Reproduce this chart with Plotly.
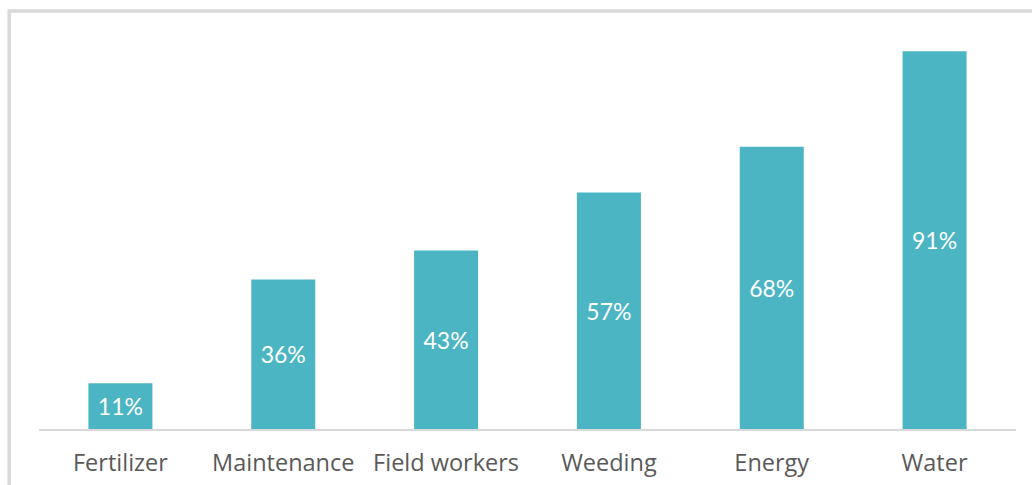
import plotly.graph_objects as go

categories = ["Fertilizer", "Maintenance", "Field workers", "Weeding", "Energy", "Water"]
shares = [11, 36, 43, 57, 68, 91]
share_labels = ["11%", "36%", "43%", "57%", "68%", "91%"]

bar_color = "#4BB5C4"
grid_grey = "#D9D9D9"
text_grey = "#595959"

fig = go.Figure(
    go.Bar(
        x=categories,
        y=shares,
        text=share_labels,
        textposition="inside",
        insidetextanchor="middle",
        textangle=0,
        textfont=dict(family="Lato", size=23, color="white"),
        marker=dict(color=bar_color, line=dict(width=0)),
        hoverinfo="skip",
    )
)

fig.update_layout(
    width=1032,
    height=485,
    margin=dict(l=38.5, r=16, t=14, b=56, autoexpand=False),
    paper_bgcolor="white",
    plot_bgcolor="white",
    bargap=0.607,
    showlegend=False,
    xaxis=dict(
        automargin=False,
        showline=True,
        linecolor=grid_grey,
        linewidth=2,
        ticks="",
        showgrid=False,
        ticklabelstandoff=12,
        tickfont=dict(family="Open Sans", size=23.5, color=text_grey),
        fixedrange=True,
    ),
    yaxis=dict(
        range=[0, 100],
        visible=False,
        showgrid=False,
        fixedrange=True,
    ),
    shapes=[
        # outer frame of the chart area (right and bottom run past the page)
        dict(
            type="rect",
            xref="paper",
            yref="paper",
            x0=-0.0305,
            x1=1.2,
            y0=-0.3,
            y1=1.0075,
            line=dict(color=grid_grey, width=3.5),
            fillcolor="rgba(0,0,0,0)",
            layer="below",
        )
    ],
)

fig.write_html("out.html", config={"displayModeBar": False})
